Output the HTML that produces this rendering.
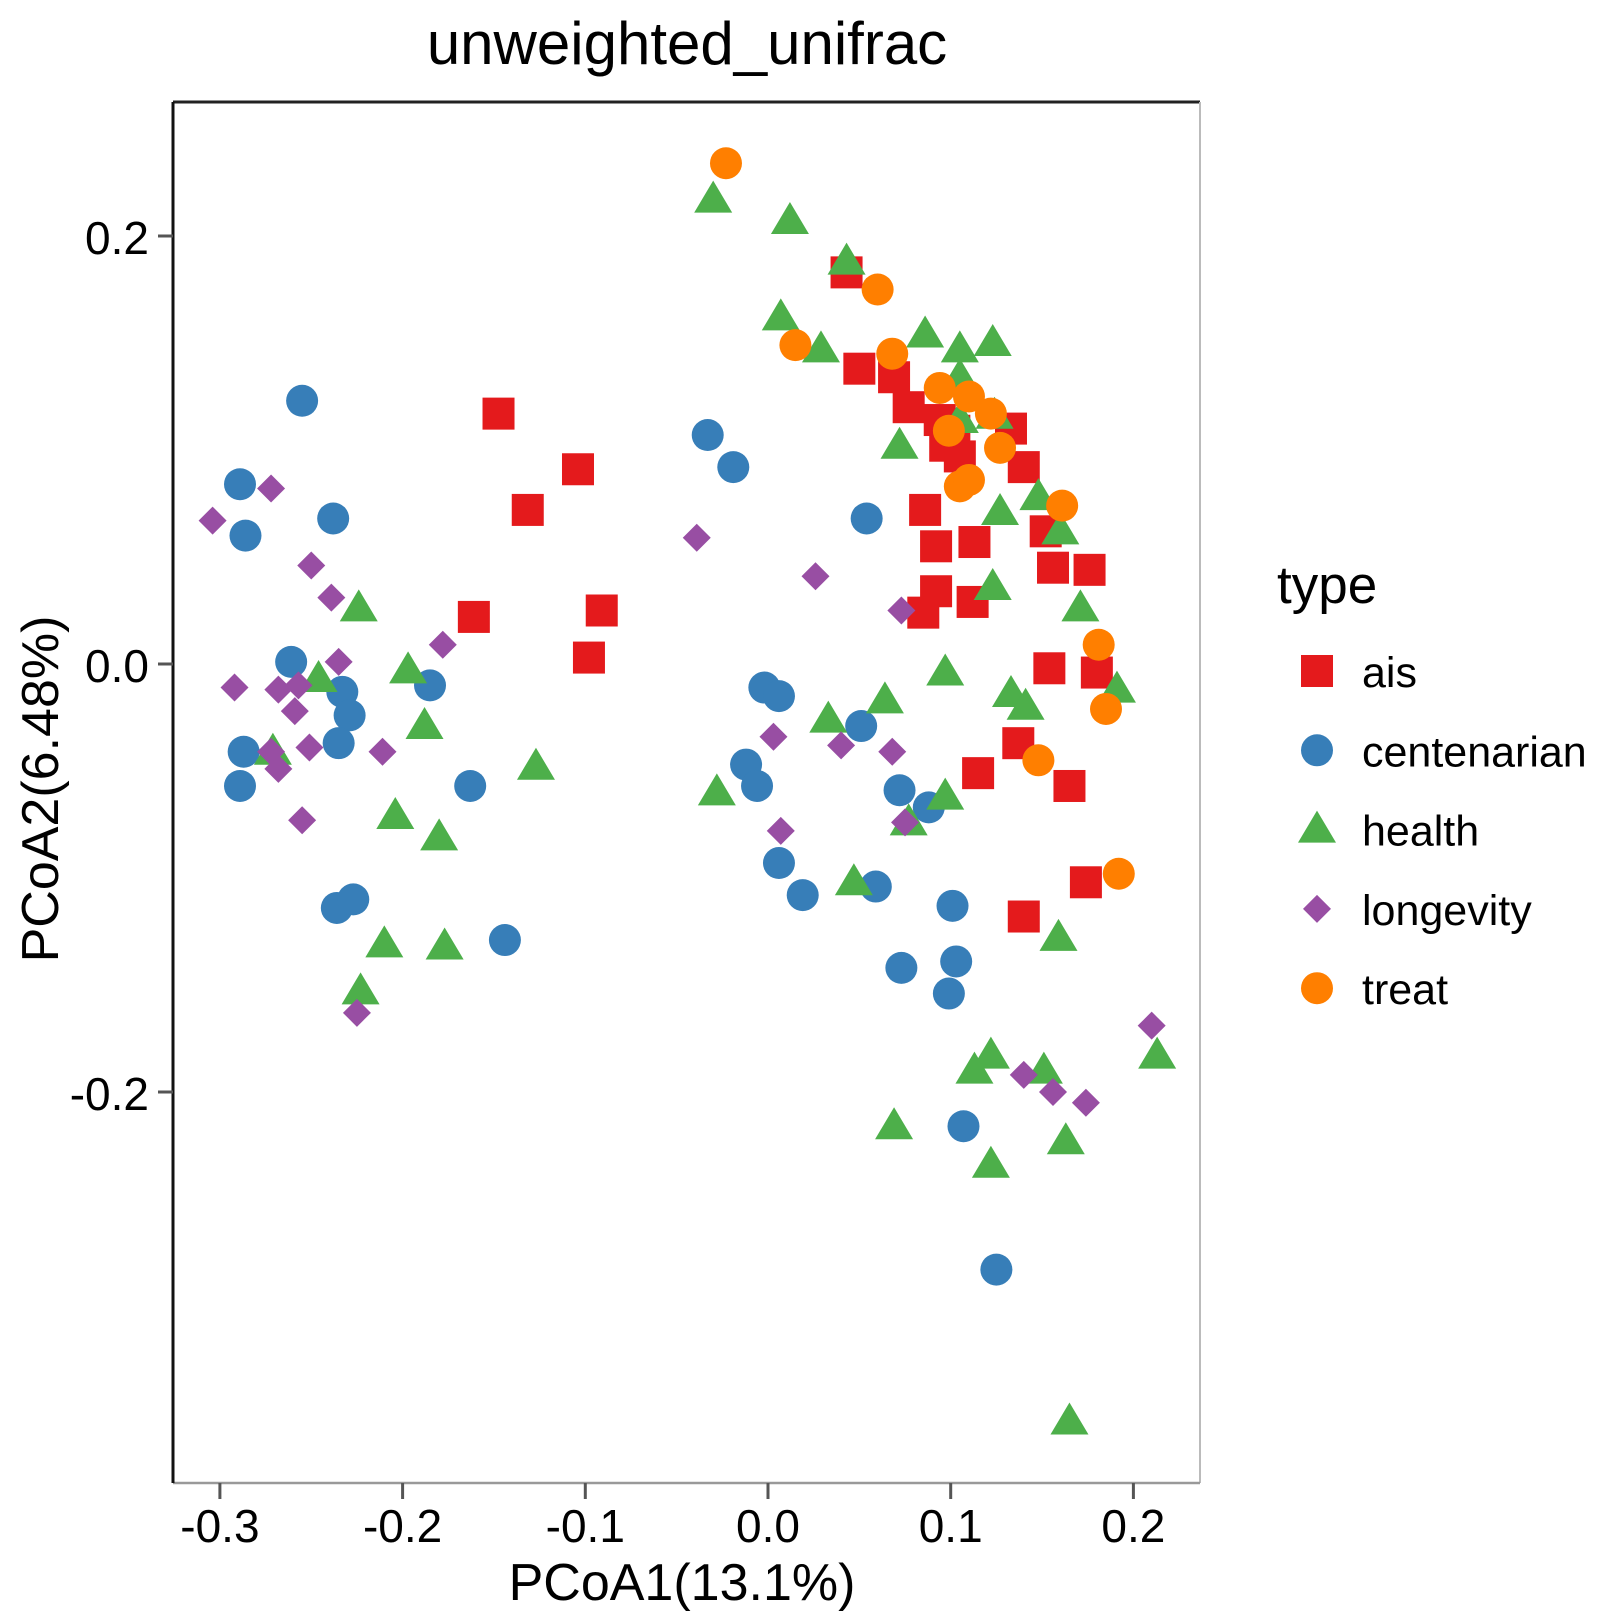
<!DOCTYPE html>
<html><head><meta charset="utf-8"><style>
body{margin:0;background:#fff}
svg{display:block;font-family:"Liberation Sans",Arial,sans-serif}
</style></head><body>
<svg id="chart" width="1600" height="1622" viewBox="0 0 1600 1622">
<text x="687" y="64" font-size="60" text-anchor="middle" fill="#000">unweighted_unifrac</text>
<g id="panel">
<line x1="173" y1="102" x2="1200" y2="102" stroke="#222" stroke-width="3"/>
<line x1="1200" y1="102" x2="1200" y2="1483" stroke="#bbb" stroke-width="2"/>
<line x1="173" y1="1483" x2="1200" y2="1483" stroke="#999" stroke-width="2.5"/>
<line x1="173" y1="102" x2="173" y2="1483" stroke="#111" stroke-width="3"/>
</g>
<g id="axes"></g>
<g id="marks"></g>
<text x="682" y="1600" font-size="52" text-anchor="middle">PCoA1(13.1%)</text>
<text transform="translate(58,789) rotate(-90)" font-size="52" text-anchor="middle">PCoA2(6.48%)</text>
<g id="legend">
<text x="1277" y="603" font-size="53">type</text>
</g>
</svg>
<script>
const xTicks=[-0.3,-0.2,-0.1,0.0,0.1,0.2];
const xTickLabels=["-0.3","-0.2","-0.1","0.0","0.1","0.2"];
const yTicks=[0.2,0.0,-0.2];
const yTickLabels=["0.2","0.0","-0.2"];
const groups=["ais","centenarian","health","longevity","treat"];
const colors=["#E41A1C","#377EB8","#4DAF4A","#984EA3","#FF7F00"];
const aisX=[-0.1475,-0.104,-0.1315,-0.161,-0.091,-0.098,0.043,0.050,0.069,0.077,0.094,0.097,0.105,0.133,0.140,0.086,0.092,0.113,0.152,0.156,0.176,0.092,0.085,0.112,0.154,0.180,0.137,0.115,0.165,0.174,0.140,0.102];
const aisY=[0.117,0.091,0.072,0.022,0.025,0.003,0.183,0.138,0.134,0.120,0.114,0.102,0.097,0.110,0.092,0.072,0.055,0.057,0.062,0.045,0.044,0.034,0.024,0.029,-0.002,-0.004,-0.037,-0.051,-0.057,-0.102,-0.118,0.109];
const cenX=[-0.255,-0.289,-0.286,-0.238,-0.261,-0.233,-0.229,-0.235,-0.287,-0.289,-0.185,-0.163,-0.236,-0.227,-0.144,-0.033,-0.019,0.054,-0.002,0.006,-0.012,-0.006,0.051,0.006,0.019,0.059,0.072,0.088,0.101,0.073,0.103,0.099,0.107,0.125];
const cenY=[0.123,0.084,0.060,0.068,0.001,-0.013,-0.024,-0.037,-0.041,-0.057,-0.010,-0.057,-0.114,-0.110,-0.129,0.107,0.092,0.068,-0.011,-0.015,-0.047,-0.057,-0.029,-0.093,-0.108,-0.104,-0.059,-0.067,-0.113,-0.142,-0.139,-0.154,-0.216,-0.283];
const heaX=[-0.030,0.012,0.043,0.007,0.029,0.086,0.105,0.123,0.105,0.072,0.105,0.124,0.127,0.148,0.160,0.123,0.171,0.191,0.097,0.133,0.141,0.064,0.033,0.097,0.077,-0.028,0.047,-0.127,-0.188,-0.197,-0.224,-0.246,-0.271,-0.204,-0.180,-0.210,-0.177,-0.223,0.159,0.213,0.122,0.113,0.151,0.069,0.122,0.163,0.165];
const heaY=[0.217,0.207,0.188,0.162,0.147,0.154,0.147,0.150,0.134,0.102,0.114,0.116,0.071,0.078,0.062,0.036,0.026,-0.012,-0.004,-0.014,-0.020,-0.017,-0.026,-0.062,-0.074,-0.060,-0.102,-0.048,-0.029,-0.003,0.026,-0.007,-0.041,-0.071,-0.081,-0.131,-0.132,-0.153,-0.128,-0.183,-0.183,-0.190,-0.190,-0.216,-0.234,-0.223,-0.354];
const lonX=[-0.304,-0.272,-0.250,-0.239,-0.235,-0.178,-0.292,-0.268,-0.257,-0.259,-0.251,-0.272,-0.268,-0.255,-0.211,-0.039,0.026,0.073,0.003,0.007,0.040,0.068,0.075,0.140,0.156,0.174,0.210,-0.225];
const lonY=[0.067,0.082,0.046,0.031,0.001,0.009,-0.011,-0.012,-0.010,-0.022,-0.039,-0.041,-0.049,-0.073,-0.041,0.059,0.041,0.025,-0.034,-0.078,-0.038,-0.041,-0.074,-0.192,-0.200,-0.205,-0.169,-0.163];
const treX=[-0.023,0.060,0.015,0.068,0.094,0.110,0.122,0.099,0.127,0.105,0.110,0.161,0.181,0.185,0.148,0.192];
const treY=[0.234,0.175,0.149,0.145,0.129,0.125,0.117,0.109,0.101,0.083,0.086,0.074,0.009,-0.021,-0.045,-0.098];

const NS="http://www.w3.org/2000/svg";
const sx=v=>768+v*1827;
const sy=v=>664-v*2140;
function mk(tag,attrs,parent){const e=document.createElementNS(NS,tag);for(const k in attrs)e.setAttribute(k,attrs[k]);parent.appendChild(e);return e;}
function marker(shape,cx,cy,color,parent){
 let e;
 if(shape==="ais")e=mk("rect",{x:cx-16,y:cy-16,width:32,height:32,fill:color},parent);
 else if(shape==="centenarian"||shape==="treat")e=mk("circle",{cx:cx,cy:cy,r:16,fill:color},parent);
 else if(shape==="health")e=mk("polygon",{points:`${cx},${cy-19} ${cx+19},${cy+13} ${cx-19},${cy+13}`,fill:color},parent);
 else e=mk("polygon",{points:`${cx},${cy-14} ${cx+14},${cy} ${cx},${cy+14} ${cx-14},${cy}`,fill:color},parent);
 return e;
}
const axes=document.getElementById('axes');
xTicks.forEach((t,i)=>{
 const l=mk("line",{x1:sx(t),x2:sx(t),y1:1483,y2:1499,stroke:"#555","stroke-width":3},axes);
 
 
 const tx=mk("text",{x:sx(t),y:1542,"font-size":46,"text-anchor":"middle"},axes);
 tx.textContent=xTickLabels[i];
 
 
});
yTicks.forEach((t,i)=>{
 const l=mk("line",{x1:158,x2:173,y1:sy(t),y2:sy(t),stroke:"#555","stroke-width":3},axes);
 
 
 const tx=mk("text",{x:149,y:sy(t)+18,"font-size":46,"text-anchor":"end"},axes);
 tx.textContent=yTickLabels[i];
 
 
});
const marks=document.getElementById('marks');
const allX=[aisX,cenX,heaX,lonX,treX],allY=[aisY,cenY,heaY,lonY,treY];
groups.forEach((g,gi)=>{
 allX[gi].forEach((v,i)=>{
  const e=marker(g,sx(v),sy(allY[gi][i]),colors[gi],marks);
  
  
 });
});
const leg=document.getElementById('legend');
groups.forEach((g,gi)=>{
 const y=671+gi*79.3;
 const e=marker(g,1317,y,colors[gi],leg);
 
 
 const t=mk("text",{x:1362,y:y+16,"font-size":43},leg);
 t.textContent=g;
 
 
});
</script>
</body></html>
